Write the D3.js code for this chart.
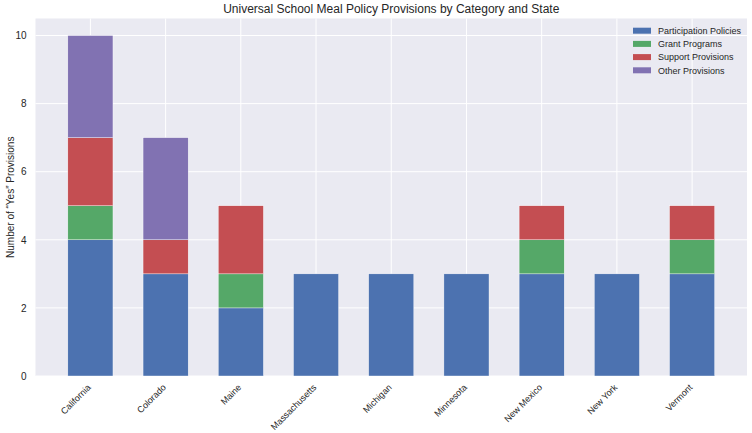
<!DOCTYPE html>
<html><head><meta charset="utf-8">
<script src="https://cdn.jsdelivr.net/npm/d3@7"></script>
<style>body{margin:0;background:#fff;} svg{display:block;font-family:"Liberation Sans",Arial,sans-serif;}</style>
</head><body>
<svg id="c" width="752" height="433"></svg>
<script>
const states = ["California","Colorado","Maine","Massachusetts","Michigan","Minnesota","New Mexico","New York","Vermont"];
const participation = [4,3,2,3,3,3,3,3,3];
const grant = [1,0,1,0,0,0,1,0,1];
const support = [2,1,2,0,0,0,1,0,1];
const other = [3,3,0,0,0,0,0,0,0];
const seriesNames = ["Participation Policies","Grant Programs","Support Provisions","Other Provisions"];
const colors = ["#4C72B0","#55A868","#C44E52","#8172B2"];
const yTicks = [0,2,4,6,8,10];

const svg = d3.select("#c");
const L=35.5, R=747, T=18.5, B=376;
const x = d3.scaleLinear().domain([-0.73, 8.73]).range([L,R]);
const y = d3.scaleLinear().domain([0,10.5]).range([B,T]);

svg.append("rect").attr("x",L).attr("y",T).attr("width",R-L).attr("height",B-T).attr("fill","#EAEAF2");

// grid
svg.append("g").selectAll("line").data(yTicks).join("line")
  .attr("x1",L).attr("x2",R).attr("y1",d=>y(d)).attr("y2",d=>y(d))
  .attr("stroke","#fff").attr("stroke-width",1);
svg.append("g").selectAll("line").data(states).join("line")
  .attr("x1",(d,i)=>x(i)).attr("x2",(d,i)=>x(i)).attr("y1",T).attr("y2",B)
  .attr("stroke","#fff").attr("stroke-width",1);

const table = states.map((s,i)=>({state:s,i, p:participation[i], g:grant[i], s2:support[i], o:other[i]}));
const stack = d3.stack().keys(["p","g","s2","o"])(table);
const bw = 0.6;
svg.append("g").selectAll("g").data(stack).join("g")
  .attr("fill",(d,k)=>colors[k])
  .selectAll("rect").data(d=>d.filter(e=>e[1]-e[0]>0)).join("rect")
  .attr("x",d=>x(d.data.i-bw/2)).attr("width",d=>x(bw)-x(0))
  .attr("y",d=>y(d[1])).attr("height",d=>y(d[0])-y(d[1]))
  .attr("stroke","#fff").attr("stroke-width",0.4);

// y axis labels
const yAxis = d3.axisLeft(y).tickValues(yTicks).tickSize(0).tickPadding(9).tickFormat(d3.format("d"));
const ga = svg.append("g").attr("transform",`translate(${L},0)`).call(yAxis);
ga.select(".domain").remove();
ga.selectAll("text").attr("font-size",10).attr("fill","#262626").style("font-family","'Liberation Sans',Arial,sans-serif");

// x labels
const xAxis = d3.axisBottom(x).tickValues(d3.range(states.length)).tickSize(0).tickFormat(i=>states[i]);
const gx = svg.append("g").attr("transform",`translate(0,${B})`).call(xAxis);
gx.select(".domain").remove();
gx.selectAll("text").attr("font-size",9).attr("fill","#262626")
  .style("font-family","'Liberation Sans',Arial,sans-serif")
  .attr("text-anchor","end").attr("dy",0).attr("y",0)
  .attr("transform","translate(0.5,12) rotate(-45)");

// title
svg.append("text").attr("x",(L+R)/2).attr("y",13).attr("text-anchor","middle")
  .attr("font-size",12).attr("fill","#262626").text("Universal School Meal Policy Provisions by Category and State");
// y label
svg.append("text").attr("transform",`translate(14,${(T+B)/2}) rotate(-90)`).attr("text-anchor","middle")
  .attr("font-size",10).attr("fill","#262626").text("Number of \u201cYes\u201d Provisions");

// legend
const lg = svg.append("g").selectAll("g").data(seriesNames).join("g")
  .attr("transform",(d,i)=>`translate(633,${30.7+i*13.2})`);
lg.append("rect").attr("x",0).attr("y",-3).attr("width",18).attr("height",6).attr("fill",(d,i)=>colors[i]);
lg.append("text").attr("x",25).attr("y",3.3).attr("font-size",9).attr("fill","#262626").text(d=>d);
</script>
</body></html>
